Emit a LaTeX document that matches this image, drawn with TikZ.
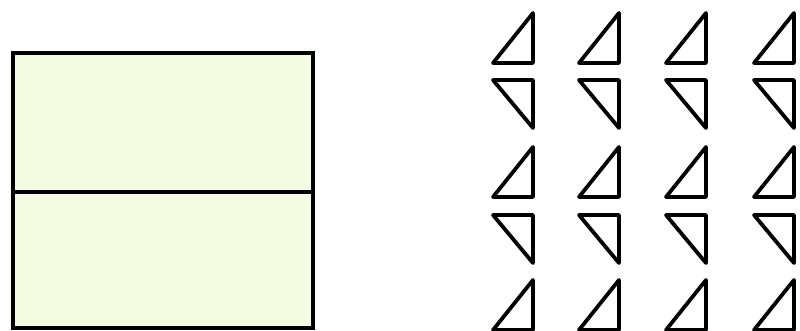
\documentclass[tikz,border=0pt]{standalone}
\definecolor{panelfill}{HTML}{F3FBE3}
\tikzset{
  panel/.style={draw=black, line width=4.2pt, fill=panelfill, line join=miter},
  tri/.style={draw=black, line width=3.8pt, line join=round, line cap=round}
}
\begin{document}
\begin{tikzpicture}[x=1pt,y=-1pt]
\useasboundingbox (0,0) rectangle (800,331);
% left panel
\draw[panel] (13,53) rectangle (313,328);
\draw[draw=black, line width=4.2pt] (13,192) -- (313,192);
% triangle grid
\begin{scope}
\clip (0,0) rectangle (800,331);
\foreach \x in {533,619,706,794}{
  \foreach \y in {13,147,280}{
    \draw[tri] (\x,\y) -- (\x,\y+50) -- (\x-40,\y+50) -- cycle;
  }
  \foreach \y in {80,215}{
    \draw[tri] (\x-40,\y) -- (\x,\y) -- (\x,\y+48) -- cycle;
  }
}
\end{scope}
\end{tikzpicture}
\end{document}
